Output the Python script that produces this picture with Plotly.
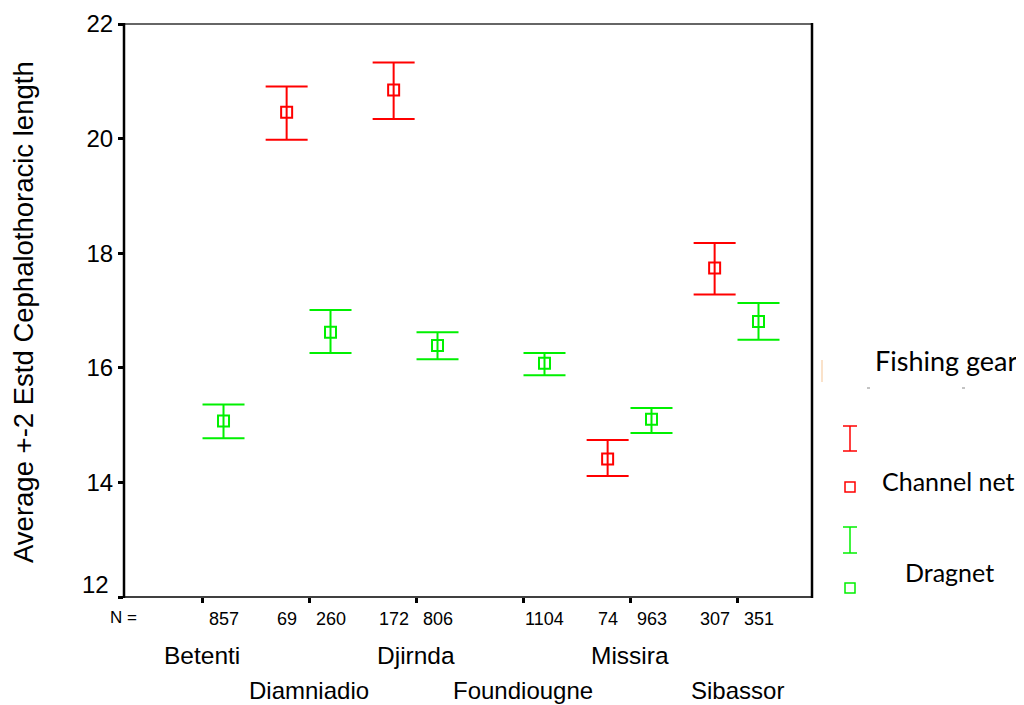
import plotly.graph_objects as go

categories = ["Betenti", "Diamniadio", "Djirnda", "Foundiougne", "Missira", "Sibassor"]
channel_mean = [None, 20.46, 20.85, None, 14.41, 17.74]
channel_upper = [None, 20.91, 21.33, None, 14.74, 18.18]
channel_lower = [None, 19.98, 20.34, None, 14.11, 17.28]
channel_n = [None, 69, 172, None, 74, 307]
drag_mean = [15.07, 16.62, 16.39, 16.08, 15.10, 16.81]
drag_upper = [15.36, 17.01, 16.62, 16.26, 15.30, 17.13]
drag_lower = [14.77, 16.26, 16.15, 15.87, 14.86, 16.49]
drag_n = [857, 260, 806, 1104, 963, 351]
y_ticks = [12, 14, 16, 18, 20, 22]

RED = "#ff0000"
GREEN = "#00f000"
OFF_C = -0.21
OFF_D = 0.20
ARIAL = "Liberation Sans, Arial"
CAL = "Lato, Open Sans"

fig = go.Figure()

def add_series(means, up, lo, off, color, name):
    xs, ys, ep, em = [], [], [], []
    for i, m in enumerate(means):
        if m is None:
            continue
        xs.append(i + off)
        ys.append(m)
        ep.append(up[i] - m)
        em.append(m - lo[i])
    fig.add_trace(go.Scatter(
        x=xs, y=ys, mode="markers", name=name,
        marker=dict(symbol="square-open", size=11, color=color, line=dict(width=2, color=color)),
        error_y=dict(type="data", symmetric=False, array=ep, arrayminus=em,
                     color=color, thickness=2, width=21),
        showlegend=False, hoverinfo="skip"))

add_series(channel_mean, channel_upper, channel_lower, OFF_C, RED, "Channel net")
add_series(drag_mean, drag_upper, drag_lower, OFF_D, GREEN, "Dragnet")

# screen-pixel -> paper helpers (plot area spans x 124..812, y 24..597 on screen)
def px(v):
    return (v - 124) / (812 - 124)
def py(v):
    return (597 - v) / (597 - 24)

annotations = []
# N labels
for i in range(len(categories)):
    if channel_n[i] is not None:
        annotations.append(dict(x=i + OFF_C, y=0, xref="x", yref="paper", yshift=-22,
                                yanchor="middle", xanchor="center",
                                text=str(channel_n[i]), showarrow=False,
                                font=dict(family=ARIAL, size=18, color="black")))
    annotations.append(dict(x=i + OFF_D, y=0, xref="x", yref="paper", yshift=-22,
                            yanchor="middle", xanchor="center",
                            text=str(drag_n[i]), showarrow=False,
                            font=dict(family=ARIAL, size=18, color="black")))
annotations.append(dict(x=px(123), y=0, xref="paper", yref="paper", yshift=-20,
                        yanchor="middle", xanchor="center", text="N =",
                        showarrow=False, font=dict(family=ARIAL, size=17, color="black")))
# category labels (staggered)
for i, c in enumerate(categories):
    annotations.append(dict(x=i, y=0, xref="x", yref="paper",
                            yshift=-58 if i % 2 == 0 else -93,
                            yanchor="middle", xanchor="center",
                            text=c, showarrow=False,
                            font=dict(family=ARIAL, size=24.5 if i % 2 == 0 else 24,
                                      color="black")))

# lowest y tick label is drawn raised above its tick (as in the original)
annotations.append(dict(x=0, y=y_ticks[0], xref="paper", yref="y", xshift=-13, yshift=13,
                        xanchor="right", yanchor="middle", text=str(y_ticks[0]), showarrow=False,
                        font=dict(family=ARIAL, size=24, color="black")))

# y title
annotations.append(dict(x=px(23), y=py(312), xref="paper", yref="paper", textangle=-90,
                        xanchor="center", yanchor="middle",
                        text="Average +-2 Estd Cephalothoracic length", showarrow=False,
                        font=dict(family=ARIAL, size=27.5, color="black")))

# legend
lx = 850
annotations.append(dict(x=px(873), y=py(361), xref="paper", yref="paper", xanchor="left",
                        yanchor="middle", text="Fishing gear", showarrow=False,
                        font=dict(family=CAL, size=27, color="black")))
annotations.append(dict(x=px(880), y=py(481), xref="paper", yref="paper", xanchor="left",
                        yanchor="middle", text="Channel net", showarrow=False,
                        font=dict(family=CAL, size=25, color="black")))
annotations.append(dict(x=px(903), y=py(572), xref="paper", yref="paper", xanchor="left",
                        yanchor="middle", text="Dragnet", showarrow=False,
                        font=dict(family=CAL, size=25, color="black")))

shapes = []
def seg(x0, y0, x1, y1, color, w):
    shapes.append(dict(type="line", xref="paper", yref="paper",
                       x0=px(x0), y0=py(y0), x1=px(x1), y1=py(y1),
                       line=dict(color=color, width=w)))
def sq(cx, cy, color):
    shapes.append(dict(type="rect", xref="paper", yref="paper",
                       x0=px(cx - 5), y0=py(cy + 5), x1=px(cx + 5), y1=py(cy - 5),
                       line=dict(color=color, width=1.5)))

for (yt, yb, ys, col) in [(426, 451, 487, RED), (527, 553, 588, GREEN)]:
    seg(lx, yt, lx, yb, col, 1.5)
    seg(lx - 7, yt, lx + 7, yt, col, 1.5)
    seg(lx - 7, yb, lx + 7, yb, col, 1.5)
    sq(lx, ys, col)

# faint artefacts in legend area
seg(822, 360, 822, 382, "#f8d8b8", 1.5)
seg(867, 388, 870, 388, "#888888", 1)
seg(962, 388, 965, 388, "#888888", 1)

# plot frame
seg(124, 24, 812, 24, "#333333", 1.5)
seg(124, 597, 812, 597, "black", 1.5)
seg(124, 23, 124, 598, "black", 2.5)
seg(812, 23, 812, 598, "black", 2.5)

fig.update_layout(
    width=1016, height=697,
    margin=dict(l=116, r=212, t=16, b=108, autoexpand=False),
    paper_bgcolor="white", plot_bgcolor="white",
    xaxis=dict(range=[-0.73, 5.70], tickvals=list(range(len(categories))),
               ticktext=[""] * len(categories), ticks="outside", ticklen=5,
               tickwidth=3, tickcolor="black", showgrid=False, zeroline=False,
               showline=False, automargin=False),
    yaxis=dict(range=[12, 22], tickvals=y_ticks,
               ticktext=[""] + [str(v) for v in y_ticks[1:]],
               ticks="outside", ticklen=5,
               tickwidth=3, tickcolor="black", showgrid=False, zeroline=False,
               showline=False, automargin=False,
               tickfont=dict(family=ARIAL, size=24, color="black")),
    annotations=annotations,
    shapes=shapes,
    showlegend=False,
)

fig.write_html("out.html")
